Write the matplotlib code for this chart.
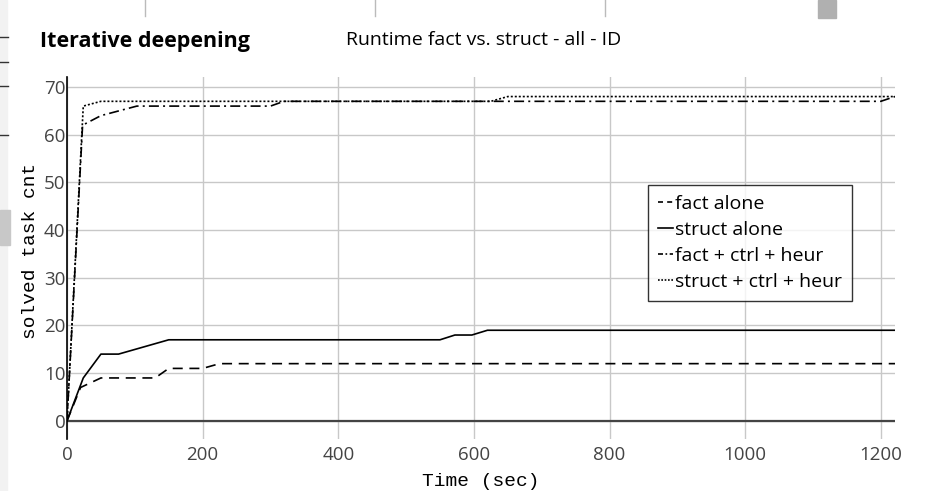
import matplotlib.pyplot as plt
from matplotlib.patches import Rectangle
from matplotlib.lines import Line2D

# series (time in sec, solved task count)
t_fact = [0, 20, 50, 130, 150, 200, 225, 1221]
v_fact = [0, 7, 9, 9, 11, 11, 12, 12]
t_struct = [0, 24, 50, 76, 150, 550, 572, 597, 620, 1221]
v_struct = [0, 9, 14, 14, 17, 17, 18, 18, 19, 19]
t_fact_ch = [0, 23, 50, 103, 300, 320, 1200, 1221]
v_fact_ch = [0, 62, 64, 66, 66, 67, 67, 68]
t_struct_ch = [0, 24, 50, 625, 650, 1221]
v_struct_ch = [0, 66, 67, 67, 68, 68]

labels = ['fact alone', 'struct alone', 'fact + ctrl + heur', 'struct + ctrl + heur']
xticks = [0, 200, 400, 600, 800, 1000, 1200]
yticks = [0, 10, 20, 30, 40, 50, 60, 70]

W, H = 948, 491
fig = plt.figure(figsize=(W / 100, H / 100), dpi=100)

# bits of the surrounding UI visible in the screenshot
fig.patches.append(Rectangle((0, 0), 7 / W, 1, transform=fig.transFigure,
                             color='#f2f2f2', zorder=0))
fig.patches.append(Rectangle((0, 1 - 245 / H), 10 / W, 35 / H, transform=fig.transFigure,
                             color='#c8c8c8', zorder=0))
fig.patches.append(Rectangle((818 / W, 1 - 18 / H), 18 / W, 18 / H, transform=fig.transFigure,
                             color='#b0b0b0', zorder=0))
for y in [37, 62, 86, 135]:
    fig.add_artist(Line2D([0, 8 / W], [1 - y / H] * 2, color='#333', lw=1))
for x in [145, 375, 605]:
    fig.add_artist(Line2D([x / W] * 2, [1, 1 - 16 / H], color='#bbb', lw=1))

ax = fig.add_axes([67 / W, 1 - 439 / H, (895 - 67) / W, (439 - 77) / H])

ax.plot(t_fact, v_fact, color='black', lw=1.2, linestyle=(0, (6, 4)), label=labels[0])
ax.plot(t_struct, v_struct, color='black', lw=1.2, linestyle='-', label=labels[1])
ax.plot(t_fact_ch, v_fact_ch, color='black', lw=1.2, linestyle=(0, (6, 2.5, 1.2, 2.5)), label=labels[2])
ax.plot(t_struct_ch, v_struct_ch, color='black', lw=1.2, linestyle=(0, (1.2, 1.2)), label=labels[3])

ax.axhline(0, color='#444', lw=1.6, zorder=1)

ax.set_xlim(0, 1221)
ax.set_ylim(-3.8, 72.1)
ax.set_xticks(xticks)
ax.set_yticks(yticks)
ax.grid(True, color='#c8c8c8', lw=1)
ax.set_axisbelow(True)
for s in ['top', 'right', 'bottom']:
    ax.spines[s].set_visible(False)
ax.spines['left'].set_color('black')
ax.spines['left'].set_linewidth(1.2)
ax.tick_params(length=0, labelsize=13.5, labelcolor='#444')
ax.tick_params(axis='x', pad=5)
ax.tick_params(axis='y', pad=1)
for lab in ax.get_xticklabels() + ax.get_yticklabels():
    lab.set_family('Open Sans')

ax.set_xlabel('Time (sec)', family='Liberation Mono', fontsize=14)
ax.set_ylabel('solved task cnt', family='Liberation Mono', fontsize=14)
ax.xaxis.set_label_coords(0.5, -0.095)
ax.yaxis.set_label_coords(-0.034, 0.52)

leg = ax.legend(loc='upper left', bbox_to_anchor=(648 / W, 1 - 185 / H),
                bbox_transform=fig.transFigure, frameon=True, fancybox=False,
                prop={'family': 'Open Sans', 'size': 14}, handlelength=0.8,
                handletextpad=0.1, borderpad=0.5, labelspacing=0.42,
                borderaxespad=0)
leg._legend_box.align = 'left'
leg.get_frame().set_edgecolor('black')
leg.get_frame().set_linewidth(1)
leg_lines = leg.get_lines()
leg_lines[0].set_linestyle((0, (3, 2.5)))
leg_lines[2].set_linestyle((0, (3, 1.5, 1, 1.5)))
leg_lines[3].set_linestyle((0, (1, 1)))

fig.text(40 / W, 1 - 42 / H, 'Iterative deepening', family='Open Sans',
         fontsize=15.5, fontweight='bold', va='center')
fig.text(346 / W, 1 - 40 / H, 'Runtime fact vs. struct - all - ID',
         family='Open Sans', fontsize=14, va='center')

fig.savefig('out.png', dpi=100)
